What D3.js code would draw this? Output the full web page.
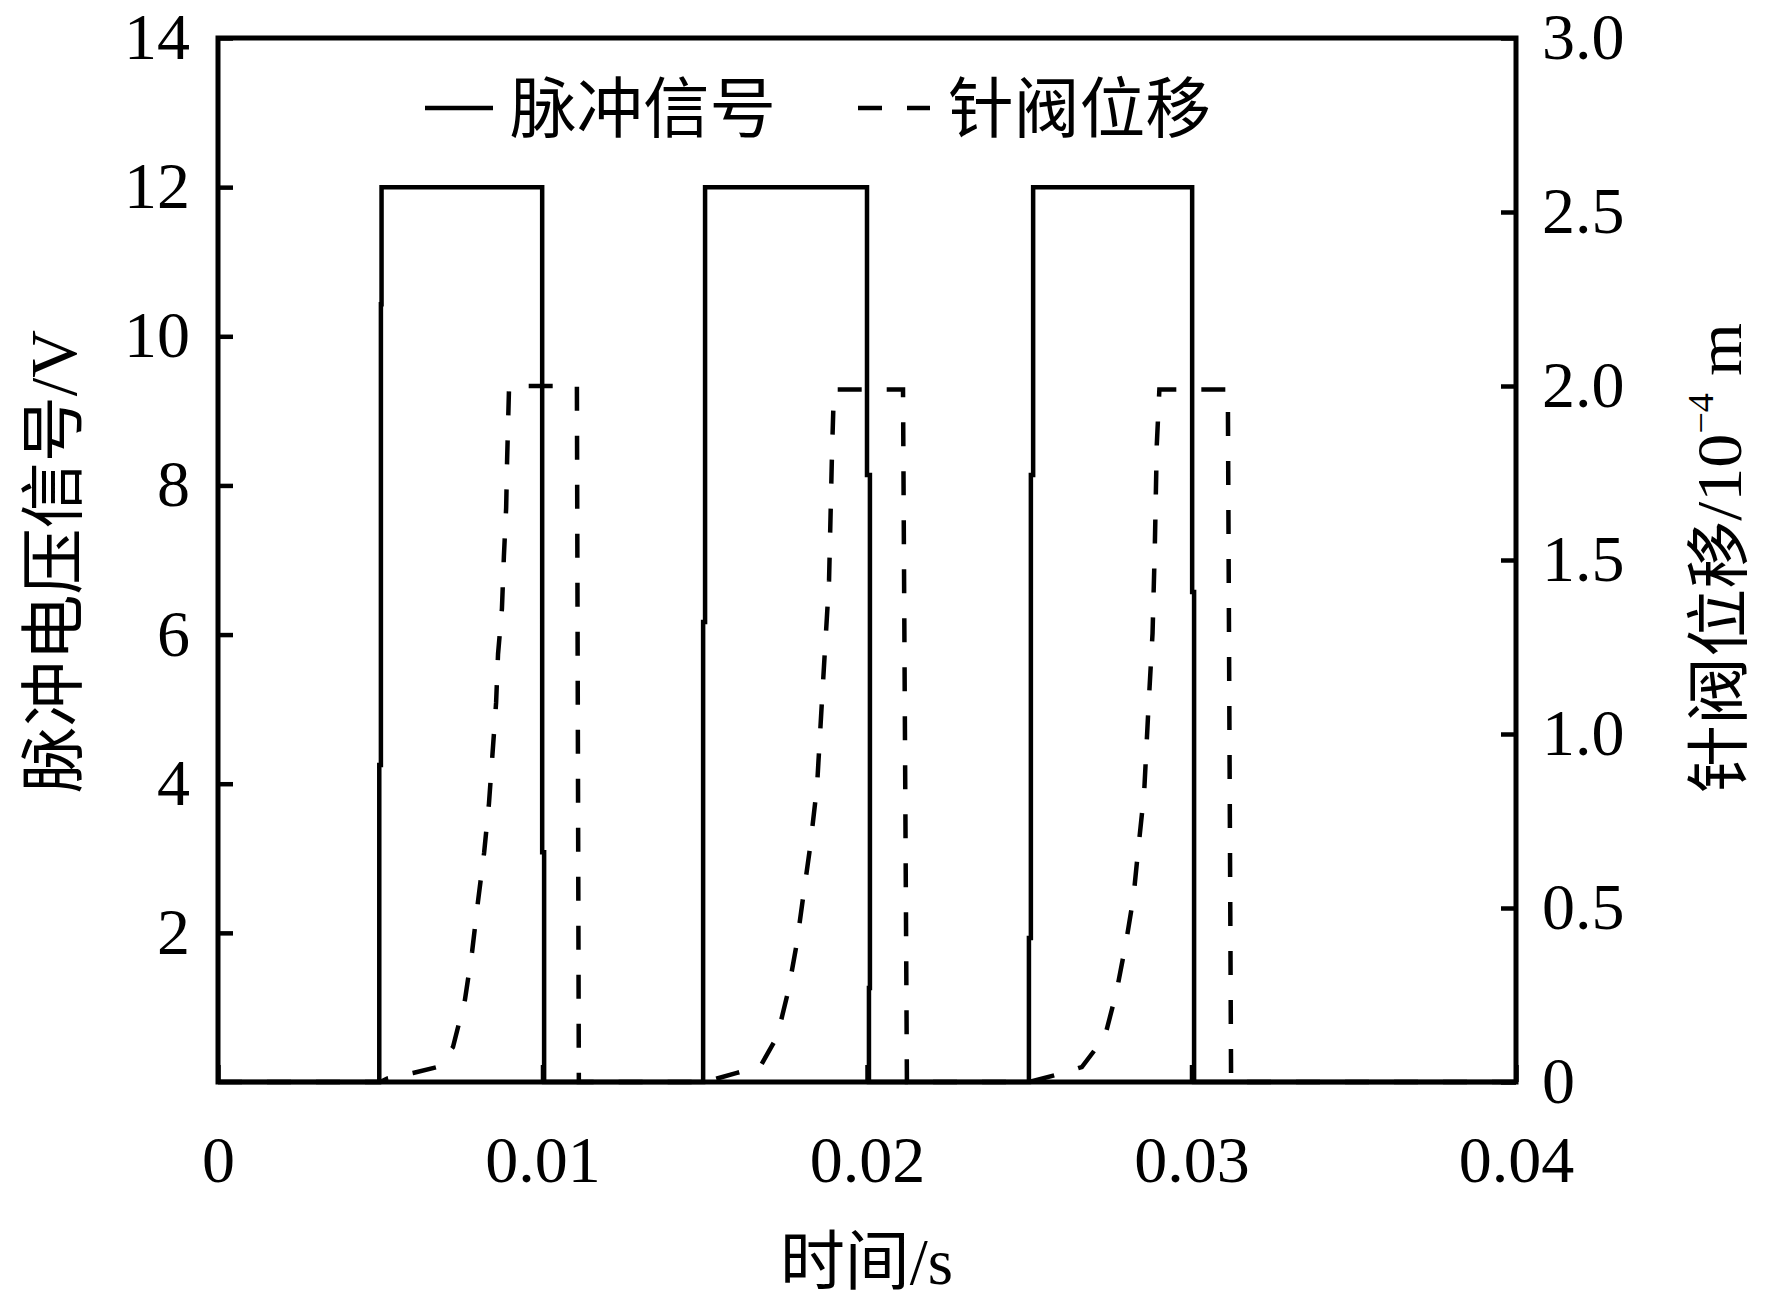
<!DOCTYPE html>
<html lang="zh">
<head>
<meta charset="UTF-8">
<title>脉冲信号与针阀位移</title>
<script src="https://d3js.org/d3.v7.min.js"></script>
<style>
  body { margin: 0; background: #fff; }
</style>
</head>
<body>
<div id="chart"></div>
<script>
// tick values and labels
const timeTicks = [0, 0.01, 0.02, 0.03, 0.04];
const timeTickLabels = ["0", "0.01", "0.02", "0.03", "0.04"];
const voltTicks = [2, 4, 6, 8, 10, 12, 14];
const liftTicks = [0, 0.5, 1.0, 1.5, 2.0, 2.5, 3.0];
const liftTickLabels = ["0", "0.5", "1.0", "1.5", "2.0", "2.5", "3.0"];

// 脉冲信号 (V)
const pulseTime = [0, 0.00497, 0.00497, 0.00502, 0.00502, 0.00504, 0.00504, 0.00999, 0.00999, 0.01005, 0.01005,
  0.01495, 0.01495, 0.01501, 0.01501, 0.02000, 0.02000, 0.02009, 0.02009, 0.02006, 0.02006,
  0.02499, 0.02499, 0.02505, 0.02505, 0.02512, 0.02512, 0.03002, 0.03002, 0.03008, 0.03008, 0.04];
const pulseVolt = [0, 0, 4.25, 4.25, 10.43, 10.43, 12, 12, 3.08, 3.08, 0,
  0, 6.17, 6.17, 12, 12, 8.14, 8.14, 1.26, 1.26, 0,
  0, 1.93, 1.93, 8.14, 8.14, 12, 12, 6.57, 6.57, 0, 0];

// 针阀位移 (10^-4 m)
const needleTime = [0, 0.00500, 0.00521, 0.00601, 0.00675, 0.00724, 0.00761, 0.00783, 0.00801, 0.00820, 0.00835,
  0.00851, 0.00857, 0.00863, 0.00875, 0.00881, 0.00888, 0.00891, 0.00897, 0.01106, 0.01112,
  0.01500, 0.01599, 0.01633, 0.01670, 0.01723, 0.01757, 0.01784, 0.01803, 0.01824, 0.01846,
  0.01864, 0.01883, 0.01892, 0.01898, 0.02111, 0.02123,
  0.02500, 0.02604, 0.02662, 0.02733, 0.02769, 0.02798, 0.02821, 0.02836, 0.02854, 0.02867,
  0.02880, 0.02887, 0.02893, 0.02901, 0.03112, 0.03122, 0.04];
const needleLift = [0, 0, 0.01, 0.026, 0.043, 0.10, 0.236, 0.374, 0.517, 0.658, 0.80,
  1.01, 1.09, 1.23, 1.36, 1.51, 1.65, 1.79, 2.0, 2.0, 0,
  0, 0.026, 0.035, 0.043, 0.13, 0.26, 0.40, 0.53, 0.67, 0.85,
  1.14, 1.44, 1.80, 1.99, 1.99, 0,
  0, 0.026, 0.043, 0.13, 0.26, 0.40, 0.53, 0.67, 0.83, 1.07,
  1.29, 1.54, 1.83, 1.99, 1.99, 0, 0];

const width = 1772, height = 1304;
const plotL = 218, plotR = 1516, plotT = 38, plotB = 1082;
const serif = "'Liberation Serif', 'Times New Roman', serif";
const cjk = "'Noto Sans CJK SC', sans-serif";

const svg = d3.select("#chart").append("svg")
  .attr("width", width)
  .attr("height", height);

const x = d3.scaleLinear().domain([0, 0.04]).range([plotL, plotR]);
const yV = d3.scaleLinear().domain([0, 14]).range([plotB, plotT]);
const yD = d3.scaleLinear().domain([0, 3]).range([plotB, plotT]);

// axes (ticks point inward)
function styleAxis(g) {
  g.select(".domain").remove();
  g.selectAll(".tick line").attr("stroke", "#000").attr("stroke-width", 4.5);
  g.selectAll(".tick text").attr("fill", "#000")
    .style("font-family", serif).style("font-size", "66px");
}

const xAxisG = svg.append("g")
  .attr("transform", `translate(0,${plotB})`)
  .call(d3.axisBottom(x).tickValues(timeTicks).tickSize(-17).tickPadding(53)
    .tickFormat((d, i) => timeTickLabels[i]))
  .call(styleAxis);

const yLeftG = svg.append("g")
  .attr("transform", `translate(${plotL},0)`)
  .call(d3.axisLeft(yV).tickValues(voltTicks).tickSize(-15).tickPadding(28))
  .call(styleAxis);

const yRightG = svg.append("g")
  .attr("transform", `translate(${plotR},0)`)
  .call(d3.axisRight(yD).tickValues(liftTicks).tickSize(-15).tickPadding(26)
    .tickFormat((d, i) => liftTickLabels[i]))
  .call(styleAxis);

yLeftG.selectAll(".tick text").attr("dy", "0.31em");
yRightG.selectAll(".tick text").attr("dy", "0.31em");

// series
const pulseLine = d3.line().x(d => x(d[0])).y(d => yV(d[1]));
const needleLine = d3.line().x(d => x(d[0])).y(d => yD(d[1]));

svg.append("path")
  .datum(d3.zip(needleTime, needleLift))
  .attr("d", needleLine)
  .attr("fill", "none")
  .attr("stroke", "#000")
  .attr("stroke-width", 4.5)
  .attr("stroke-dasharray", "24,25");

svg.append("path")
  .datum(d3.zip(pulseTime, pulseVolt))
  .attr("d", pulseLine)
  .attr("fill", "none")
  .attr("stroke", "#000")
  .attr("stroke-width", 4.5);

// frame
svg.append("rect")
  .attr("x", plotL).attr("y", plotT)
  .attr("width", plotR - plotL).attr("height", plotB - plotT)
  .attr("fill", "none").attr("stroke", "#000").attr("stroke-width", 5);

// legend
const legend = svg.append("g");
legend.append("line").attr("x1", 425).attr("x2", 493).attr("y1", 108).attr("y2", 108)
  .attr("stroke", "#000").attr("stroke-width", 4.5);
legend.append("text").attr("x", 510).attr("y", 132)
  .attr("textLength", 266).attr("lengthAdjust", "spacingAndGlyphs")
  .style("font-family", cjk).style("font-size", "66px").text("脉冲信号");
legend.append("line").attr("x1", 858).attr("x2", 930).attr("y1", 108).attr("y2", 108)
  .attr("stroke", "#000").attr("stroke-width", 4.5).attr("stroke-dasharray", "24,25");
legend.append("text").attr("x", 948).attr("y", 132)
  .attr("textLength", 263).attr("lengthAdjust", "spacingAndGlyphs")
  .style("font-family", cjk).style("font-size", "66px").text("针阀位移");

// axis titles
const xt = svg.append("text")
  .attr("x", 780).attr("y", 1284)
  .attr("textLength", 173).attr("lengthAdjust", "spacingAndGlyphs")
  .style("font-size", "65px");
xt.append("tspan").style("font-family", cjk).text("时间");
xt.append("tspan").style("font-family", serif).text("/s");

const lt = svg.append("text")
  .attr("transform", "translate(76,562) rotate(-90)")
  .attr("x", -231).attr("y", 0)
  .attr("textLength", 463).attr("lengthAdjust", "spacingAndGlyphs")
  .style("font-size", "65px");
lt.append("tspan").style("font-family", cjk).text("脉冲电压信号");
lt.append("tspan").style("font-family", serif).text("/V");

const rt = svg.append("text")
  .attr("transform", "translate(1741,558) rotate(-90)")
  .attr("x", -235).attr("y", 0)
  .attr("textLength", 470).attr("lengthAdjust", "spacingAndGlyphs")
  .style("font-size", "64px");
rt.append("tspan").style("font-family", cjk).text("针阀位移");
rt.append("tspan").style("font-family", serif).text("/10");
rt.append("tspan").style("font-family", serif).style("font-size", "36px").attr("dy", -28).text("\u22124");
rt.append("tspan").style("font-family", serif).attr("dy", 28).text("\u00a0m");
</script>
</body>
</html>
